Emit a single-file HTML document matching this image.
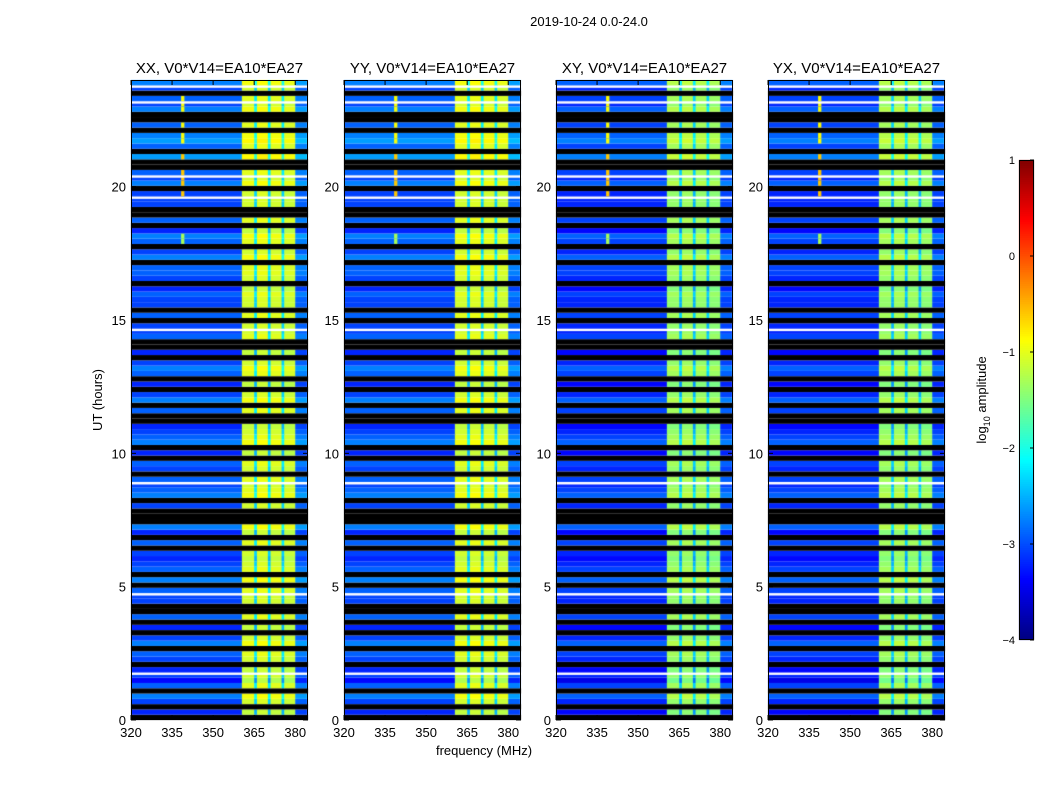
<!DOCTYPE html>
<html><head><meta charset="utf-8"><style>
body{margin:0;background:#fff;font-family:"Liberation Sans",sans-serif;}
#root{position:relative;width:1050px;height:800px;overflow:hidden;}
canvas{position:absolute;}
</style></head><body>
<div id="root">
<canvas id="c" width="1050" height="800"></canvas>
<svg id="s" width="1050" height="800" style="position:absolute;left:0;top:0"></svg>
</div>
<script>
// ---- data ----
const panelTitles = ["XX, V0*V14=EA10*EA27","YY, V0*V14=EA10*EA27","XY, V0*V14=EA10*EA27","YX, V0*V14=EA10*EA27"];
const panelBgOffset = [0, 0, -0.15, -0.15];
const panelBandOffset = [0, 0, -0.3, -0.3];
// row flags per 0.2 h from 0 to 24 h: k=flagged(black) w=thin white line, digit=level
const rowLevels = "k4k57k63w4k56k75k4k6"+"kk5w6k7k6545k6k47kkk"+"5k76w6k56k4k7654kk6k7"+"5k4k675k4kk6w5k6k556"+"4k566k75k674k6kk5w5k"+"7w6kk8k687k6kk7w6kw7";
// frequency segments [startMHz, endMHz, offset]
const freqSegments = [[320,360.5,0],[360.5,365,1.9],[365,366,0.7],[366,370,1.95],[370,371,0.7],[371,375,1.9],[375,376,0.7],[376,380,1.85],[380,384.3,0.15]];
// RFI [freqStart, freqEnd, hourStart, hourEnd, amplitude]
const rfi = [[338.3,339.5,19.6,21.2,-0.6],[338.3,339.5,21.6,23.4,-0.9],[338.3,339.5,20.6,21.0,0.1],[338.3,339.5,22.4,22.9,0.0],[338.3,339.5,17.6,18.2,-1.3]];
const yTicks = [0,5,10,15,20];
const xTicks = [320,335,350,365,380];
const cbTicks = [1,0,-1,-2,-3,-4];
// ---- layout ----
const lefts=[131,344,556,768], W=177, ptop=80, bot=720;
const fx=(p,f)=>lefts[p]+(f-320)*(176/64.3);
const hy=h=>bot-(h/24)*(bot-ptop);
const vmin=-4,vmax=1;
function jet(v){let x=Math.max(0,Math.min(1,(v-vmin)/(vmax-vmin)));
 const c=t=>Math.round(255*Math.max(0,Math.min(1,t)));
 return `rgb(${c(Math.min(4*x-1.5,-4*x+4.5))},${c(Math.min(4*x-0.5,-4*x+3.5))},${c(Math.min(4*x+0.5,-4*x+2.5))})`;}
const ctx=document.getElementById('c').getContext('2d');
const svg=document.getElementById('s');
const NS="http://www.w3.org/2000/svg";
function el(tag,attrs,txt){const e=document.createElementNS(NS,tag);for(const k in attrs)e.setAttribute(k,attrs[k]);if(txt!==undefined)e.textContent=txt;svg.appendChild(e);return e;}
const dh=24/rowLevels.length;
for(let p=0;p<4;p++){
 for(let r=0;r<rowLevels.length;r++){
  const ch=rowLevels[r];const y0=hy((r+1)*dh),y1=hy(r*dh);
  if(ch==='k'){ctx.fillStyle='#000';ctx.fillRect(lefts[p],y0,W,y1-y0);continue;}
  const d=ch==='w'?5:+ch;
  for(const s of freqSegments){
   let v;
   if(s[2]>1){v=-1.1+(d-5)*0.08+panelBandOffset[p]+(s[2]-1.9);}
   else v=-3.8+d*0.15+panelBgOffset[p]+s[2];
   ctx.fillStyle=jet(v);
   ctx.fillRect(fx(p,s[0]),y0,fx(p,s[1])-fx(p,s[0])+0.5,y1-y0);
  }
  for(const q of rfi){
   const hc=(r+0.5)*dh;
   if(hc>=q[2]&&hc<q[3]){ctx.fillStyle=jet(q[4]);ctx.fillRect(fx(p,q[0]),y0,fx(p,q[1])-fx(p,q[0]),y1-y0);}
  }
  if(ch==='w'){ctx.fillStyle='#fff';ctx.fillRect(lefts[p],y0,W,2.5);}
 }
 const g=el('rect',{x:lefts[p]+0.5,y:ptop+0.5,width:W-1,height:bot-ptop-1,fill:'none',stroke:'#000','stroke-width':1});
 
 
 const t=el('text',{x:lefts[p]+W/2,y:73,'text-anchor':'middle','font-size':15},panelTitles[p]);
 
 
 for(const v of yTicks){const y=hy(v);
  el('line',{x1:lefts[p],x2:lefts[p]+5,y1:y,y2:y,stroke:'#000'});
  el('line',{x1:lefts[p]+W-5,x2:lefts[p]+W,y1:y,y2:y,stroke:'#000'});
  const tl=el('text',{x:lefts[p]-5,y:y+5,'text-anchor':'end','font-size':13},v);
  
  
 }
 for(const v of xTicks){const x=fx(p,v);
  el('line',{x1:x,x2:x,y1:bot,y2:bot-5,stroke:'#000'});
  el('line',{x1:x,x2:x,y1:ptop,y2:ptop+5,stroke:'#000'});
  const tl=el('text',{x:x,y:bot+17,'text-anchor':'middle','font-size':13},v);
  
  
 }
}
// colorbar
const cbx=1019,cbw=15,cbt=160,cbb=640;
for(let i=0;i<240;i++){const y=cbb-(i+1)*2;ctx.fillStyle=jet(vmin+(i+0.5)/240*(vmax-vmin));ctx.fillRect(cbx,y,cbw,2);}
const cbf=el('rect',{x:cbx+0.5,y:cbt+0.5,width:cbw-1,height:cbb-cbt-1,fill:'none',stroke:'#000'});


for(const v of cbTicks){const y=cbb-(v-vmin)/(vmax-vmin)*(cbb-cbt);
 el('line',{x1:cbx+cbw-4,x2:cbx+cbw,y1:y,y2:y,stroke:'#000'});
 const tl=el('text',{x:cbx-4,y:y+4,'text-anchor':'end','font-size':11},v<0?'\u2212'+(-v):v);
 
 
}
</script>
<svg width="1050" height="800" style="position:absolute;left:0;top:0;pointer-events:none">
<text x="589" y="26" text-anchor="middle" font-size="13">2019-10-24 0.0-24.0</text>
<text x="484" y="755" text-anchor="middle" font-size="13">frequency (MHz)</text>
<text transform="translate(102,400) rotate(-90)" text-anchor="middle" font-size="13">UT (hours)</text>
<text transform="translate(986,400) rotate(-90)" text-anchor="middle" font-size="13">log<tspan font-size="9" dy="4">10</tspan><tspan dy="-4"> amplitude</tspan></text>
</svg>
</body></html>
